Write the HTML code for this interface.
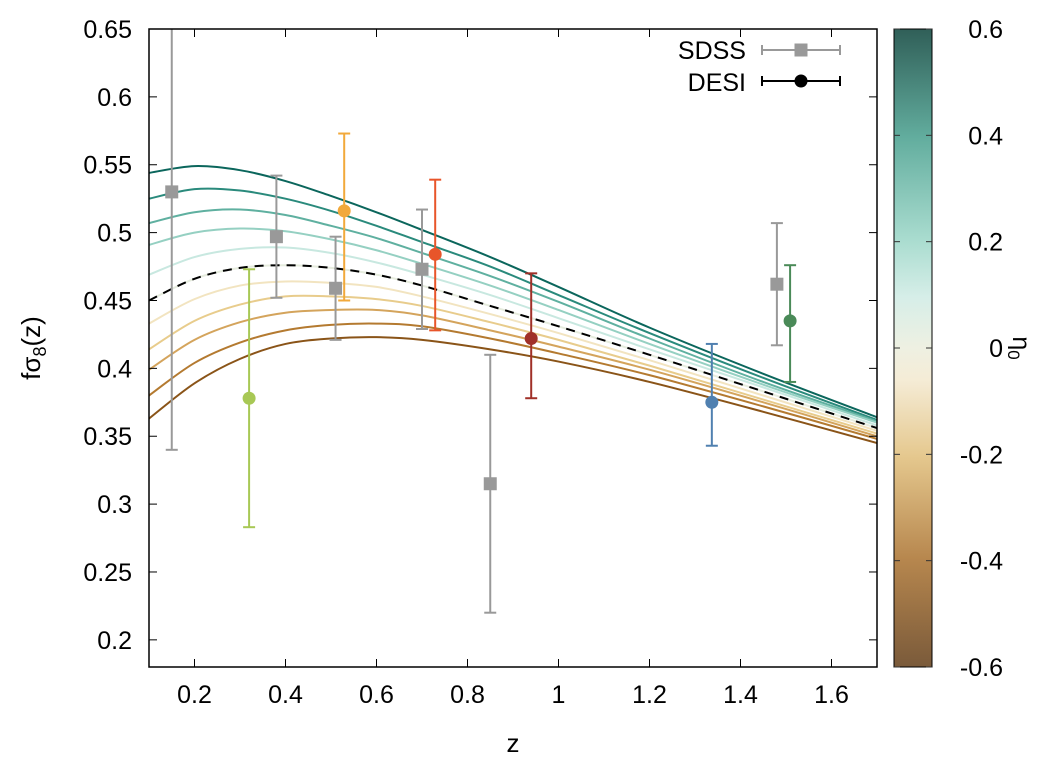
<!DOCTYPE html>
<html><head><meta charset="utf-8"><style>
body{margin:0;background:#fff;}
svg{display:block;font-family:"Liberation Sans",sans-serif;}
</style></head><body>
<svg id="chart" width="1054" height="767" viewBox="0 0 1054 767" xmlns="http://www.w3.org/2000/svg">
<defs>
<linearGradient id="cbgrad" x1="0" y1="1" x2="0" y2="0">
<stop offset="0" stop-color="#7a5a3a"/>
<stop offset="0.17" stop-color="#b7874e"/>
<stop offset="0.33" stop-color="#e5c88e"/>
<stop offset="0.45" stop-color="#f5ecd6"/>
<stop offset="0.5" stop-color="#eef0e2"/>
<stop offset="0.58" stop-color="#d6eee8"/>
<stop offset="0.67" stop-color="#a9dccf"/>
<stop offset="0.83" stop-color="#62ad9e"/>
<stop offset="1" stop-color="#305f58"/>
</linearGradient>
<clipPath id="plotclip"><rect x="149" y="29" width="728" height="638"/></clipPath>
</defs>
</svg>
<script>
const zGrid = [0.1,0.2,0.3,0.4,0.5,0.6,0.7,0.85,1.0,1.2,1.45,1.7];
const etaValues = [0.5,0.4,0.3,0.2,0.1,0.0,-0.1,-0.2,-0.3,-0.4,-0.5];
const curve_p05 = [.544,.549,.546,.538,.527,.515,.502,.482,.460,.430,.396,.364];
const curve_p04 = [.525,.532,.531,.525,.516,.505,.493,.475,.454,.426,.393,.362];
const curve_p03 = [.507,.515,.517,.513,.505,.496,.485,.468,.449,.422,.390,.361];
const curve_p02 = [.491,.500,.503,.501,.495,.487,.477,.461,.443,.418,.388,.360];
const curve_p01 = [.469,.482,.488,.489,.485,.478,.469,.454,.437,.414,.386,.358];
const curve_0 = [.450,.466,.474,.476,.474,.469,.461,.446,.431,.410,.383,.356];
const curve_m01 = [.433,.451,.461,.464,.463,.460,.453,.440,.426,.406,.380,.354];
const curve_m02 = [.414,.435,.447,.453,.453,.451,.446,.434,.421,.402,.377,.352];
const curve_m03 = [.399,.421,.434,.441,.443,.443,.439,.428,.416,.399,.375,.350];
const curve_m04 = [.380,.404,.419,.428,.432,.433,.431,.422,.411,.395,.372,.348];
const curve_m05 = [.363,.389,.407,.418,.422,.423,.421,.414,.405,.390,.368,.345];
const curves = [curve_p05,curve_p04,curve_p03,curve_p02,curve_p01,curve_0,curve_m01,curve_m02,curve_m03,curve_m04,curve_m05];
const curveColors = ["#0b665c","#2a8a7c","#5fb0a0","#95d0c2","#c8e8e0","#e6ecde","#f2e4c0","#e8cc8c","#d4a45c","#b47a30","#8a5418"];

const sdssZ = [0.15,0.38,0.51,0.70,0.85,1.48];
const sdssF = [0.530,0.497,0.459,0.473,0.315,0.462];
const sdssErr = [0.19,0.045,0.038,0.044,0.095,0.045];

const desiZ = [0.32,0.529,0.729,0.94,1.337,1.509];
const desiF = [0.378,0.516,0.484,0.422,0.375,0.435];
const desiLo = [0.095,0.066,0.056,0.044,0.032,0.045];
const desiHi = [0.095,0.057,0.055,0.048,0.043,0.041];
const desiColors = ["#a8c855","#f2a93b","#e8552a","#a03028","#5080b0","#4a8a58"];

const xTicks = [0.2,0.4,0.6,0.8,1.0,1.2,1.4,1.6];
const xTickLabels = ["0.2","0.4","0.6","0.8","1","1.2","1.4","1.6"];
const yTicks = [0.2,0.25,0.3,0.35,0.4,0.45,0.5,0.55,0.6,0.65];
const yTickLabels = ["0.2","0.25","0.3","0.35","0.4","0.45","0.5","0.55","0.6","0.65"];
const cbTicks = [-0.6,-0.4,-0.2,0,0.2,0.4,0.6];
const cbTickLabels = ["-0.6","-0.4","-0.2","0","0.2","0.4","0.6"];

const L=149,R=877,T=29,B=667;
const xS = z => L + (z-0.1)/(1.6)*(R-L);
const yS = v => B - (v-0.18)/(0.47)*(B-T);
const cbY = e => B - (e+0.6)/1.2*(B-T);
const NS="http://www.w3.org/2000/svg";
const svg=document.getElementById('chart');
function mk(tag,attrs,parent){const e=document.createElementNS(NS,tag);for(const k in attrs)e.setAttribute(k,attrs[k]);(parent||svg).appendChild(e);return e;}

function smoothPath(xs,ys){
  const p=xs.map((x,i)=>[xS(x),yS(ys[i])]);
  let d=`M${p[0][0]},${p[0][1]}`;
  for(let i=0;i<p.length-1;i++){
    const p0=p[Math.max(0,i-1)],p1=p[i],p2=p[i+1],p3=p[Math.min(p.length-1,i+2)];
    const c1=[p1[0]+(p2[0]-p0[0])/6,p1[1]+(p2[1]-p0[1])/6];
    const c2=[p2[0]-(p3[0]-p1[0])/6,p2[1]-(p3[1]-p1[1])/6];
    d+=` C${c1[0]},${c1[1]} ${c2[0]},${c2[1]} ${p2[0]},${p2[1]}`;
  }
  return d;
}

const gCurves=mk('g',{'clip-path':'url(#plotclip)'});


curves.forEach((c,i)=>{
  const p=mk('path',{d:smoothPath(zGrid,c),fill:'none',stroke:curveColors[i],'stroke-width':2},gCurves);
  
  
});
const dash=mk('path',{d:smoothPath(zGrid,curve_0),fill:'none',stroke:'#000','stroke-width':2,'stroke-dasharray':'9,7'},gCurves);



const gPts=mk('g',{'clip-path':'url(#plotclip)'});


function errbar(x,lo,hi,col,g){
  mk('line',{x1:x,x2:x,y1:yS(lo),y2:yS(hi),stroke:col,'stroke-width':2},g);
  mk('line',{x1:x-6,x2:x+6,y1:yS(lo),y2:yS(lo),stroke:col,'stroke-width':2},g);
  mk('line',{x1:x-6,x2:x+6,y1:yS(hi),y2:yS(hi),stroke:col,'stroke-width':2},g);
}
sdssZ.forEach((z,i)=>{
  const g=mk('g',{},gPts);
  
  
  const x=xS(z);
  errbar(x,sdssF[i]-sdssErr[i],sdssF[i]+sdssErr[i],'#999',g);
  mk('rect',{x:x-6.5,y:yS(sdssF[i])-6.5,width:13,height:13,fill:'#999'},g);
});
desiZ.forEach((z,i)=>{
  const g=mk('g',{},gPts);
  
  
  const x=xS(z);
  errbar(x,desiF[i]-desiLo[i],desiF[i]+desiHi[i],desiColors[i],g);
  mk('circle',{cx:x,cy:yS(desiF[i]),r:6.5,fill:desiColors[i]},g);
});

const fr=mk('rect',{x:L,y:T,width:R-L,height:B-T,fill:'none',stroke:'#000','stroke-width':1.5});


const gx=mk('g',{});


xTicks.forEach((t,i)=>{
  const x=xS(t);
  mk('line',{x1:x,x2:x,y1:B,y2:B-8,stroke:'#000','stroke-width':1},gx);
  mk('line',{x1:x,x2:x,y1:T,y2:T+8,stroke:'#000','stroke-width':1},gx);
  const tx=mk('text',{x:x,y:B+36,'font-size':25,'text-anchor':'middle'},gx);
  tx.textContent=xTickLabels[i];
  
  
});
const gy=mk('g',{});


yTicks.forEach((t,i)=>{
  const y=yS(t);
  mk('line',{x1:L,x2:L+8,y1:y,y2:y,stroke:'#000','stroke-width':1},gy);
  mk('line',{x1:R,x2:R-8,y1:y,y2:y,stroke:'#000','stroke-width':1},gy);
  const tx=mk('text',{x:132,y:y+9,'font-size':25,'text-anchor':'end'},gy);
  tx.textContent=yTickLabels[i];
  
  
});
const xt=mk('text',{x:513,y:752,'font-size':26,'text-anchor':'middle'});
xt.textContent='z';


const yt=mk('text',{transform:'translate(40,348) rotate(-90)','font-size':26,'text-anchor':'middle'});
yt.innerHTML='fσ<tspan font-size="18" dy="6">8</tspan><tspan dy="-6">(z)</tspan>';



const cb=mk('rect',{x:894,y:T,width:38,height:B-T,fill:'url(#cbgrad)',stroke:'#000','stroke-width':1});


const gcb=mk('g',{});


cbTicks.forEach((t,i)=>{
  const y=cbY(t);
  mk('line',{x1:894,x2:900,y1:y,y2:y,stroke:'#333','stroke-width':1},gcb);
  mk('line',{x1:926,x2:932,y1:y,y2:y,stroke:'#333','stroke-width':1},gcb);
  const tx=mk('text',{x:1003,y:y+9,'font-size':25,'text-anchor':'end'},gcb);
  tx.textContent=cbTickLabels[i];
  
  
});
const ct=mk('text',{transform:'translate(1013,348) rotate(90)','font-size':25,'text-anchor':'middle'});
ct.innerHTML='η<tspan font-size="17" dy="5">0</tspan>';



const lg=mk('g',{});


const s1=mk('text',{x:746,y:59,'font-size':25,'text-anchor':'end'},lg);s1.textContent='SDSS';


mk('line',{x1:762,x2:840,y1:50,y2:50,stroke:'#999','stroke-width':2},lg);
mk('line',{x1:762,x2:762,y1:45,y2:55,stroke:'#999','stroke-width':2},lg);
mk('line',{x1:840,x2:840,y1:45,y2:55,stroke:'#999','stroke-width':2},lg);
mk('rect',{x:794.5,y:43.5,width:13,height:13,fill:'#999'},lg);
const s2=mk('text',{x:746,y:91,'font-size':25,'text-anchor':'end'},lg);s2.textContent='DESI';


mk('line',{x1:762,x2:840,y1:81,y2:81,stroke:'#000','stroke-width':2},lg);
mk('line',{x1:762,x2:762,y1:76,y2:86,stroke:'#000','stroke-width':2},lg);
mk('line',{x1:840,x2:840,y1:76,y2:86,stroke:'#000','stroke-width':2},lg);
mk('circle',{cx:801,cy:81,r:6.5,fill:'#000'},lg);
</script>
</body></html>
